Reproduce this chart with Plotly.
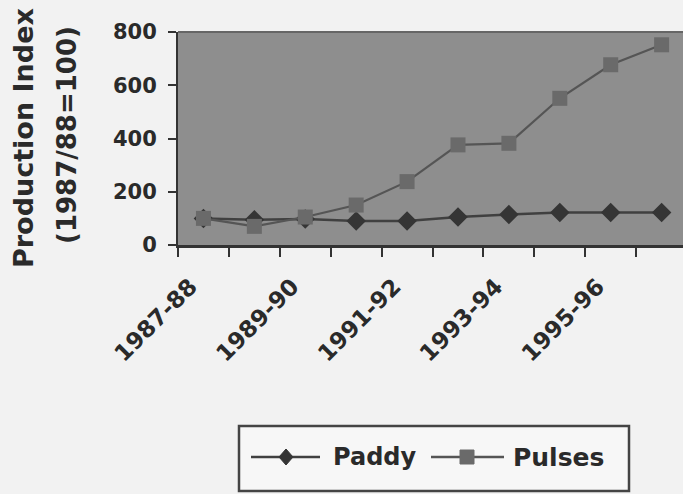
import plotly.graph_objects as go

categories = ["1987-88", "1988-89", "1989-90", "1990-91", "1991-92",
              "1992-93", "1993-94", "1994-95", "1995-96", "1996-97"]
paddy = [100, 95, 98, 90, 90, 105, 115, 122, 122, 122]
pulses = [100, 70, 105, 150, 238, 376, 382, 551, 677, 752]
y_ticks = [0, 200, 400, 600, 800]

FONT = "DejaVu Sans"
W, H = 683, 494
L, R, T, B = 178, 0, 32, 249
PW, PH = W - L - R, H - T - B


def px(x):
    return (x - L) / PW


def py(y):
    return (H - B - y) / PH


xs = list(range(len(categories)))

fig = go.Figure()
fig.add_trace(go.Scatter(
    x=xs, y=paddy, mode="lines+markers", name="Paddy",
    line=dict(color="#404040", width=2.5),
    marker=dict(symbol="diamond", size=15, color="#353535"),
    showlegend=False))
fig.add_trace(go.Scatter(
    x=xs, y=pulses, mode="lines+markers", name="Pulses",
    line=dict(color="#555555", width=2.2),
    marker=dict(symbol="square", size=15, color="#6a6a6a"),
    showlegend=False))

fig.update_xaxes(
    range=[-0.5, 9.42], showgrid=False, zeroline=False,
    showline=True, linecolor="#333333", linewidth=3,
    tickmode="array", tickvals=xs[::2], ticktext=categories[::2],
    ticks="", tickangle=-45,
    ticklabelstandoff=16, ticklabelshift=-13,
    tickfont=dict(family=FONT, size=23, color="#2a2a2a", weight="bold"),
    minor=dict(tick0=-0.5, dtick=1, ticks="outside", ticklen=9,
               tickwidth=2, tickcolor="#333333"),
)
fig.update_yaxes(
    range=[0, 800], showgrid=False, zeroline=False,
    showline=True, linecolor="#333333", linewidth=2,
    tickmode="array", tickvals=y_ticks,
    ticks="outside", ticklen=8, tickwidth=2, tickcolor="#333333",
    ticklabelstandoff=7,
    tickfont=dict(family=FONT, size=21, color="#2a2a2a", weight="bold"),
)

shapes = []
annotations = []
# darker top edge of the plot area
shapes.append(dict(type="line", xref="paper", yref="paper",
                   x0=0, x1=1, y0=1, y1=1,
                   line=dict(color="#666666", width=2)))
# legend box
shapes.append(dict(type="rect", xref="paper", yref="paper",
                   x0=px(239), x1=px(629), y0=py(491), y1=py(426),
                   line=dict(color="#444444", width=2.5), fillcolor="#f7f7f7",
                   layer="above"))
ly = py(457)
shapes.append(dict(type="line", xref="paper", yref="paper",
                   x0=px(251), x1=px(320), y0=ly, y1=ly,
                   line=dict(color="#404040", width=2.5)))
shapes.append(dict(type="path", xref="paper", yref="paper",
                   path="M {a},{b} L {c},{d} L {a},{e} L {f},{d} Z".format(
                       a=px(286), b=py(449), c=px(293), d=py(457),
                       e=py(465), f=px(279)),
                   fillcolor="#353535", line=dict(color="#353535", width=1)))
shapes.append(dict(type="line", xref="paper", yref="paper",
                   x0=px(431), x1=px(504), y0=ly, y1=ly,
                   line=dict(color="#555555", width=2.5)))
shapes.append(dict(type="rect", xref="paper", yref="paper",
                   x0=px(460), x1=px(474), y0=py(464), y1=py(450),
                   fillcolor="#6a6a6a", line=dict(color="#6a6a6a", width=1)))
annotations.append(dict(x=px(331), y=ly, xref="paper", yref="paper",
                        text="Paddy", showarrow=False, xanchor="left",
                        yanchor="middle",
                        font=dict(family=FONT, size=24, color="#2a2a2a",
                                  weight="bold")))
annotations.append(dict(x=px(511), y=ly, xref="paper", yref="paper",
                        text="Pulses", showarrow=False, xanchor="left",
                        yanchor="middle",
                        font=dict(family=FONT, size=25, color="#2a2a2a",
                                  weight="bold")))
# y axis title (two lines)
annotations.append(dict(x=px(23), y=py(138), xref="paper", yref="paper",
                        text="Production Index", textangle=-90,
                        showarrow=False, xanchor="center", yanchor="middle",
                        font=dict(family=FONT, size=27, color="#2a2a2a",
                                  weight="bold")))
annotations.append(dict(x=px(67), y=py(135), xref="paper", yref="paper",
                        text="(1987/88=100)", textangle=-90,
                        showarrow=False, xanchor="center", yanchor="middle",
                        font=dict(family=FONT, size=26, color="#2a2a2a",
                                  weight="bold")))

fig.update_layout(
    width=W, height=H,
    margin=dict(l=L, r=R, t=T, b=B),
    paper_bgcolor="#f2f2f2", plot_bgcolor="#8e8e8e",
    shapes=shapes, annotations=annotations,
    showlegend=False,
)

fig.write_html("out.html")
